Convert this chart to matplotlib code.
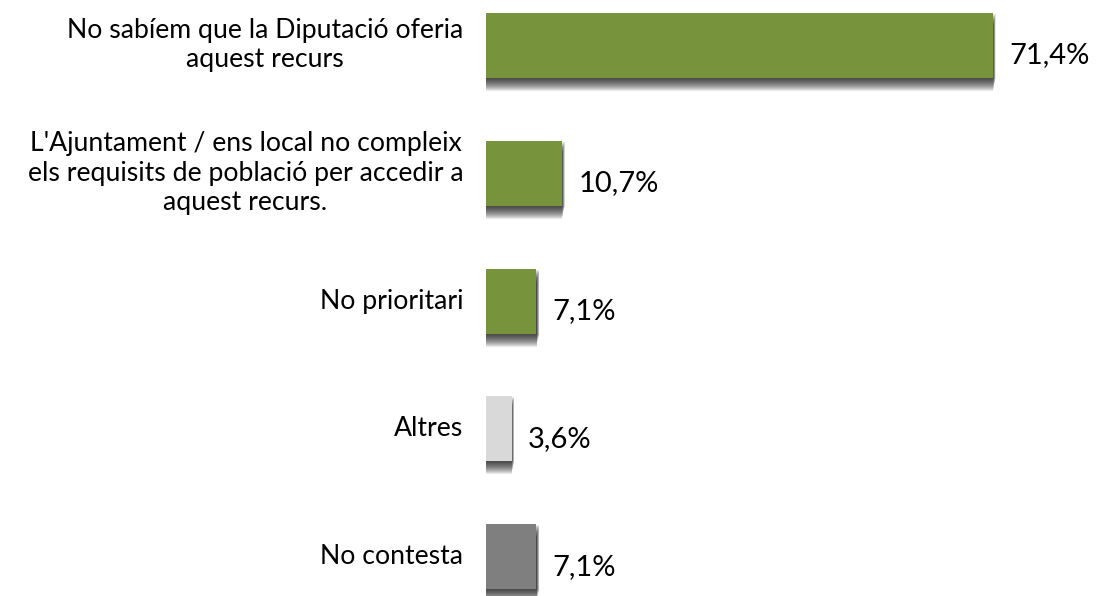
import matplotlib
matplotlib.use("Agg")
import matplotlib.pyplot as plt

categories = [
    "No sabíem que la Diputació oferia\naquest recurs",
    "L'Ajuntament / ens local no compleix\nels requisits de població per accedir a\naquest recurs.",
    "No prioritari",
    "Altres",
    "No contesta",
]
values = [71.4, 10.7, 7.1, 3.6, 7.1]
labels = ["71,4%", "10,7%", "7,1%", "3,6%", "7,1%"]
colors = ["#77933C", "#77933C", "#77933C", "#D9D9D9", "#7F7F7F"]

plt.rcParams["font.family"] = ["Lato", "DejaVu Sans"]

fig = plt.figure(figsize=(11.01, 5.96), dpi=100, facecolor="white")
ax = fig.add_axes([486 / 1101, 0, 1 - 486 / 1101, 1])
ax.set_xlim(0, 615 / 7.1)
ax.set_ylim(4.305, -0.352)
ax.axis("off")

ypos = list(range(len(values)))
bar_h = 65 / 128

# soft drop shadow: stacked translucent bars, darkest right under the bar
for d in range(1, 14):
    ax.barh([y + d / 128 for y in ypos], [v + 0.03 * (14 - d) for v in values],
            height=bar_h, color="black", alpha=0.085, linewidth=0, zorder=1)

ax.barh(ypos, values, height=bar_h, color=colors, linewidth=0, zorder=3)

for y, v, lab in zip(ypos, values, labels):
    ax.text(v + 2.3, y + 0.08, lab, fontsize=21, color="black",
            ha="left", va="center")

for y, cat in zip(ypos, categories):
    ax.text(-3.2, y, cat, fontsize=19.2, color="black", ha="right",
            va="center", multialignment="center", linespacing=1.22)

fig.savefig("out.png", dpi=100, facecolor="white")
